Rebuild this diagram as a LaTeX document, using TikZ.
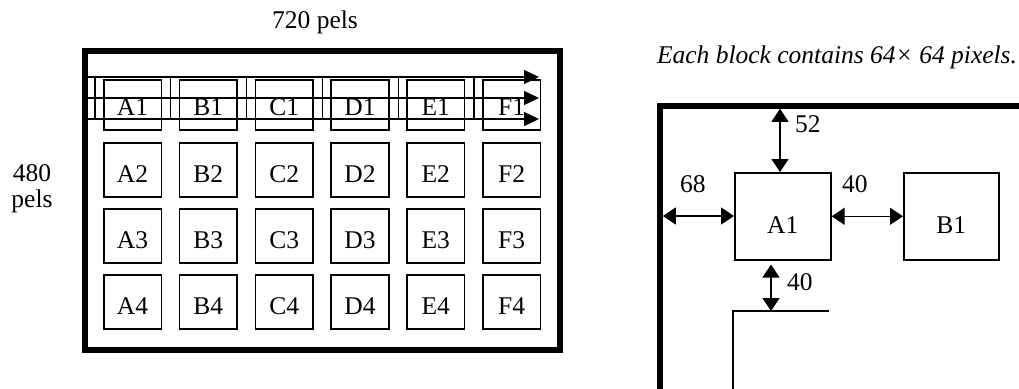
\documentclass[tikz,border=0pt]{standalone}
\usepackage{fontspec}
\setmainfont{Liberation Serif}
\usetikzlibrary{arrows.meta}
\begin{document}
\begin{tikzpicture}[x=1pt,y=-1pt,
  every node/.style={font=\fontsize{25.5}{26}\selectfont, inner sep=0pt},
  blk/.style={draw, line width=1.6pt, minimum width=57.5pt, text depth=14pt, anchor=north west},
  rowone/.style={blk, text height=36pt},
  rowrest/.style={blk, text height=40pt},
  bigblk/.style={draw, line width=1.6pt, minimum width=96pt, text height=61pt, text depth=26pt, anchor=north west},
  frame/.style={line width=5.5pt, line join=miter},
  thinline/.style={line width=1.3pt},
  scan/.style={line width=1.3pt, -{Triangle[length=15pt,width=14pt]}},
  dim/.style={line width=1.5pt, {Triangle[length=13pt,width=17pt]}-{Triangle[length=13pt,width=17pt]}}]
\useasboundingbox (0,0) rectangle (1019,388);

% ---------- left figure ----------
\node[anchor=base] (w720) at (315,28) {720 pels};
\node[align=center] (h480) at (32,189.2) {480\\pels};
\draw[frame] (85,51) rectangle (560,350);

\foreach \c [count=\i from 0] in {A,B,C,D,E,F}{
  \node[rowone]  (\c1) at (103+75.8*\i,79)  {\c1};
  \node[rowrest] (\c2) at (103+75.8*\i,142) {\c2};
  \node[rowrest] (\c3) at (103+75.8*\i,208) {\c3};
  \node[rowrest] (\c4) at (103+75.8*\i,274) {\c4};
}
% vertical separators in the scanned band
\foreach \i in {0,...,5}{
  \coordinate (s\i a) at (95+75.8*\i,77);
  \coordinate (s\i b) at (95+75.8*\i,120);
  \draw[thinline] (s\i a) -- (s\i b);
}
% scan arrows
\foreach \y/\n in {77/1,98/2,119/3}{
  \coordinate (L\n) at (88,\y);
  \coordinate (R\n) at (539,\y);
  \draw[scan] (L\n) -- (R\n);
}

% ---------- right figure ----------
\node[anchor=base, font=\fontsize{25.5}{26}\selectfont\itshape] (cap) at (837,63) {Each block contains 64\texttimes{} 64 pixels.};
\coordinate (fb) at (660,395);
\coordinate (fc) at (660,106);
\coordinate (fr) at (1025,106);
\draw[frame] (fb) -- (fc) -- (fr);

\node[bigblk] (A1r) at (734,172) {A1};
\node[bigblk, minimum width=95pt] (B1r) at (903,172) {B1};

\coordinate (pb) at (733,395);
\coordinate (pc) at (733,311);
\coordinate (pr) at (829,311);
\draw[thinline] (pb) -- (pc) -- (pr);

\coordinate (t52) at (780,108.8);
\draw[dim] (t52) -- (t52 |- A1r.north);
\coordinate (l68) at (662.8,216);
\draw[dim] (l68) -- (l68 -| A1r.west);
\draw[dim] (A1r.east) -- (B1r.west);
\coordinate (v40) at (771,311);
\draw[dim, shorten <=4pt] (v40 |- A1r.south) -- (v40);

\node[anchor=base west] (n52) at (795,132) {52};
\node[anchor=base west] (n68) at (680,192) {68};
\node[anchor=base west] (n40a) at (842,192) {40};
\node[anchor=base west] (n40b) at (787,290) {40};
\end{tikzpicture}
\end{document}
